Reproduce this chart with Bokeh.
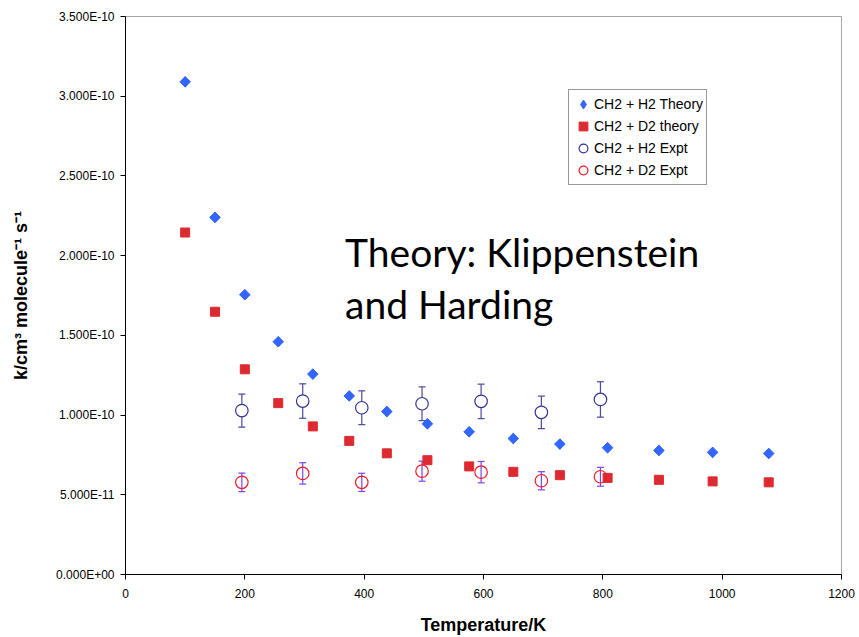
import numpy as np
from bokeh.plotting import figure
from bokeh.models import (Range1d, FixedTicker, ColumnDataSource, Whisker, TeeHead,
                          Legend, LegendItem, Label, CustomJSTickFormatter)
from bokeh.embed import file_html
from bokeh.resources import INLINE

# ---- data ----
theory_T = [100, 150, 200, 256, 314, 375, 438, 506, 576, 650, 728, 808, 894, 984, 1078]
h2_theory = [3.09e-10, 2.24e-10, 1.755e-10, 1.46e-10, 1.257e-10, 1.12e-10, 1.022e-10, 0.945e-10,
             0.895e-10, 0.853e-10, 0.818e-10, 0.795e-10, 0.778e-10, 0.766e-10, 0.759e-10]
d2_theory = [2.145e-10, 1.648e-10, 1.287e-10, 1.075e-10, 0.929e-10, 0.838e-10, 0.76e-10, 0.717e-10,
             0.678e-10, 0.644e-10, 0.623e-10, 0.606e-10, 0.594e-10, 0.584e-10, 0.578e-10]

expt_T = [195, 297, 396, 497, 596, 697, 796]
h2_expt = [1.028e-10, 1.088e-10, 1.046e-10, 1.071e-10, 1.086e-10, 1.017e-10, 1.098e-10]
h2_err = [1.04e-11, 1.08e-11, 1.06e-11, 1.06e-11, 1.08e-11, 1.02e-11, 1.11e-11]
d2_expt = [5.78e-11, 6.34e-11, 5.78e-11, 6.48e-11, 6.42e-11, 5.88e-11, 6.13e-11]
d2_err = [0.58e-11, 0.67e-11, 0.57e-11, 0.63e-11, 0.67e-11, 0.57e-11, 0.59e-11]

x_ticks = [0, 200, 400, 600, 800, 1000, 1200]
y_ticks = [0, 5e-11, 1e-10, 1.5e-10, 2e-10, 2.5e-10, 3e-10, 3.5e-10]
y_tick_labels = ["0.000E+00", "5.000E-11", "1.000E-10", "1.500E-10", "2.000E-10",
                 "2.500E-10", "3.000E-10", "3.500E-10"]

series_labels = ["CH2 + H2 Theory", "CH2 + D2 theory", "CH2 + H2 Expt", "CH2 + D2 Expt"]

# ---- figure ----
p = figure(width=859, height=637, output_backend="svg", toolbar_location=None,
           x_range=Range1d(0, 1200), y_range=Range1d(0, 3.5e-10),
           min_border_left=125, min_border_right=18, min_border_top=16, min_border_bottom=61)
p.background_fill_color = "white"
p.border_fill_color = "white"
p.outline_line_color = "#a6a6a6"
p.xgrid.visible = False
p.ygrid.visible = False

FONT = "Liberation Sans"
for ax in (p.xaxis[0], p.yaxis[0]):
    ax.axis_line_color = "black"
    ax.major_tick_line_color = "black"
    ax.major_tick_out = 5
    ax.major_tick_in = 0
    ax.minor_tick_line_color = None
    ax.major_label_text_font = FONT
    ax.major_label_text_font_size = "12px"
    ax.major_label_text_color = "black"
    ax.axis_label_text_font = FONT
    ax.axis_label_text_font_style = "bold"
    ax.axis_label_text_font_size = "18px"
    ax.axis_label_text_color = "black"

p.xaxis.ticker = FixedTicker(ticks=x_ticks)
p.yaxis.ticker = FixedTicker(ticks=y_ticks)
p.yaxis.formatter = CustomJSTickFormatter(args=dict(tvals=y_ticks, tlabels=y_tick_labels), code="""
let best = 0; let d = Infinity;
for (let i = 0; i < tvals.length; i++) { const dd = Math.abs(tvals[i] - tick); if (dd < d) { d = dd; best = i; } }
return tlabels[best];
""")
p.xaxis.axis_label = "Temperature/K"
p.yaxis.axis_label = "k/cm³ molecule⁻¹ s⁻¹"
p.xaxis.major_label_standoff = 9
p.xaxis.axis_label_standoff = 14
p.yaxis.major_label_standoff = 6
p.yaxis.axis_label_standoff = 22

# ---- sources ----
h2_src = ColumnDataSource(dict(x=expt_T, y=h2_expt,
                               upper=list(np.array(h2_expt) + np.array(h2_err)),
                               lower=list(np.array(h2_expt) - np.array(h2_err))))
d2_src = ColumnDataSource(dict(x=expt_T, y=d2_expt,
                               upper=list(np.array(d2_expt) + np.array(d2_err)),
                               lower=list(np.array(d2_expt) - np.array(d2_err))))

H2_BAR = "#4a4aa0"
D2_BAR = "#7a44f0"
BLUE = "#3366ff"
RED = "#dd2a30"
NAVY = "#333399"
RED_O = "#ee1c24"

wh = Whisker(base="x", upper="upper", lower="lower", source=h2_src, line_color=H2_BAR, line_width=1.2,
             upper_head=TeeHead(size=7, line_color=H2_BAR, line_width=1.2),
             lower_head=TeeHead(size=7, line_color=H2_BAR, line_width=1.2))
p.add_layout(wh)

# narrow diamond (used for the legend entry), hidden beneath the rotated squares
r_h2t_leg = p.scatter(theory_T, h2_theory, marker="diamond", size=10, fill_color=BLUE, line_color=BLUE)
p.scatter(theory_T, h2_theory, marker="square", size=7.5, angle=np.pi / 4,
          fill_color=BLUE, line_color=BLUE)
r_d2t = p.scatter(theory_T, d2_theory, marker="square", size=9,
                  fill_color=RED, line_color=RED)
r_h2e = p.scatter("x", "y", source=h2_src, marker="circle", size=12.5,
                  fill_color="white", line_color=NAVY, line_width=1.2)
r_d2e = p.scatter("x", "y", source=d2_src, marker="circle", size=12.5,
                  fill_color=None, line_color=RED_O, line_width=1.2)

wd = Whisker(base="x", upper="upper", lower="lower", source=d2_src, line_color=D2_BAR, line_width=1.2,
             upper_head=TeeHead(size=7, line_color=D2_BAR, line_width=1.2),
             lower_head=TeeHead(size=7, line_color=D2_BAR, line_width=1.2))
p.add_layout(wd)

legend = Legend(items=[LegendItem(label=series_labels[0], renderers=[r_h2t_leg]),
                       LegendItem(label=series_labels[1], renderers=[r_d2t]),
                       LegendItem(label=series_labels[2], renderers=[r_h2e]),
                       LegendItem(label=series_labels[3], renderers=[r_d2e])],
                location=(443, 389))
legend.label_text_font = FONT
legend.label_text_font_size = "14px"
legend.label_text_color = "black"
legend.border_line_color = "#333333"
legend.border_line_width = 1
legend.background_fill_alpha = 1
legend.padding = 3
legend.spacing = 0
legend.margin = 0
legend.glyph_width = 22
legend.glyph_height = 22
legend.label_height = 22
legend.label_standoff = 0
p.add_layout(legend)

for txt, yv in (("Theory: Klippenstein", 2.02e-10), ("and Harding", 1.698e-10)):
    p.add_layout(Label(x=368, y=yv, text=txt, text_font="Lato", text_font_size="39px",
                       text_color="black", text_baseline="alphabetic"))

open("out.html", "w").write(file_html(p, INLINE))
